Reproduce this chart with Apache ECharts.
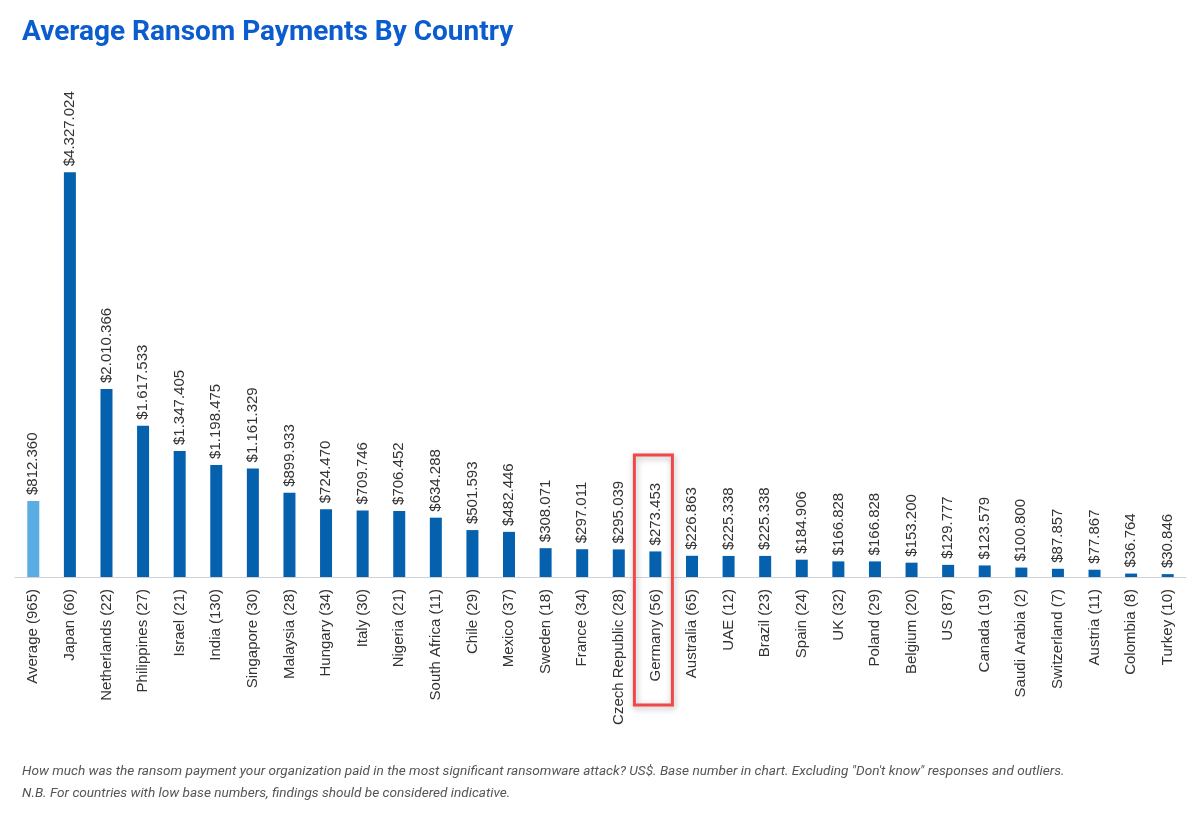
<!DOCTYPE html>
<html><head><meta charset="utf-8">
<script src="https://cdn.jsdelivr.net/npm/echarts@6/dist/echarts.min.js"></script>
<style>html,body{margin:0;padding:0;background:#fff;}#c{width:1198px;height:813px;}</style>
</head><body><div id="c"></div>
<script>
const categories = ["Average (965)","Japan (60)","Netherlands (22)","Philippines (27)","Israel (21)","India (130)","Singapore (30)","Malaysia (28)","Hungary (34)","Italy (30)","Nigeria (21)","South Africa (11)","Chile (29)","Mexico (37)","Sweden (18)","France (34)","Czech Republic (28)","Germany (56)","Australia (65)","UAE (12)","Brazil (23)","Spain (24)","UK (32)","Poland (29)","Belgium (20)","US (87)","Canada (19)","Saudi Arabia (2)","Switzerland (7)","Austria (11)","Colombia (8)","Turkey (10)"];
const values = [812360,4327024,2010366,1617533,1347405,1198475,1161329,899933,724470,709746,706452,634288,501593,482446,308071,297011,295039,273453,226863,225338,225338,184906,166828,166828,153200,129777,123579,100800,87857,77867,36764,30846];
const highlightCategory = "Germany (56)";
const title = "Average Ransom Payments By Country";
const footnotes = ["How much was the ransom payment your organization paid in the most significant ransomware attack? US$. Base number in chart. Excluding \"Don't know\" responses and outliers.","N.B. For countries with low base numbers, findings should be considered indicative."];

function fmt(v){ return '$' + String(v).replace(/\B(?=(\d{3})+(?!\d))/g, '.'); }

const chart = echarts.init(document.getElementById('c'));
const option = {
  animation:false,
  textStyle:{fontFamily:'Liberation Sans'},
  title:[{text:title,left:17,top:14,textStyle:{fontFamily:'Roboto',fontWeight:'bold',fontSize:28,color:'#0b5ccf'}},
    {text:footnotes[0],left:17,top:760,textStyle:{fontFamily:'Roboto',fontStyle:'italic',fontWeight:'normal',fontSize:13.6,color:'#555'}},
    {text:footnotes[1],left:17,top:782,textStyle:{fontFamily:'Roboto',fontStyle:'italic',fontWeight:'normal',fontSize:13.6,color:'#555'}}],
  grid:{left:15,right:12,top:100,bottom:236,containLabel:false},
  xAxis:{type:'category',data:categories,
    axisLine:{lineStyle:{color:'#cfd3d8',width:1}},axisTick:{show:false},
    axisLabel:{rotate:90,interval:0,margin:12,fontSize:15,color:'#333',fontFamily:'Liberation Sans'}},
  yAxis:{type:'value',min:0,max:5100000,show:false,splitLine:{show:false}},
  series:[{type:'bar',barWidth:12,
    data:values.map((v,i)=>({value:v,itemStyle:{color:i===0?'#5aade2':'#0560ad'}})),
    label:{show:true,position:'top',rotate:90,align:'left',verticalAlign:'middle',distance:6,fontSize:15,color:'#333',
      formatter:p=>fmt(p.value)}}]
};
chart.setOption(option);
const gi = categories.indexOf(highlightCategory);
const p = chart.convertToPixel({xAxisIndex:0,yAxisIndex:0},[gi,0]);
chart.setOption({graphic:[{type:'rect',shape:{x:p[0]-21,y:455,width:38,height:p[1]+128-455},
  style:{fill:'none',stroke:'#f04848',lineWidth:3,shadowBlur:6,shadowColor:'rgba(0,0,0,0.3)',shadowOffsetX:1,shadowOffsetY:2},z:100}]});
</script></body></html>
